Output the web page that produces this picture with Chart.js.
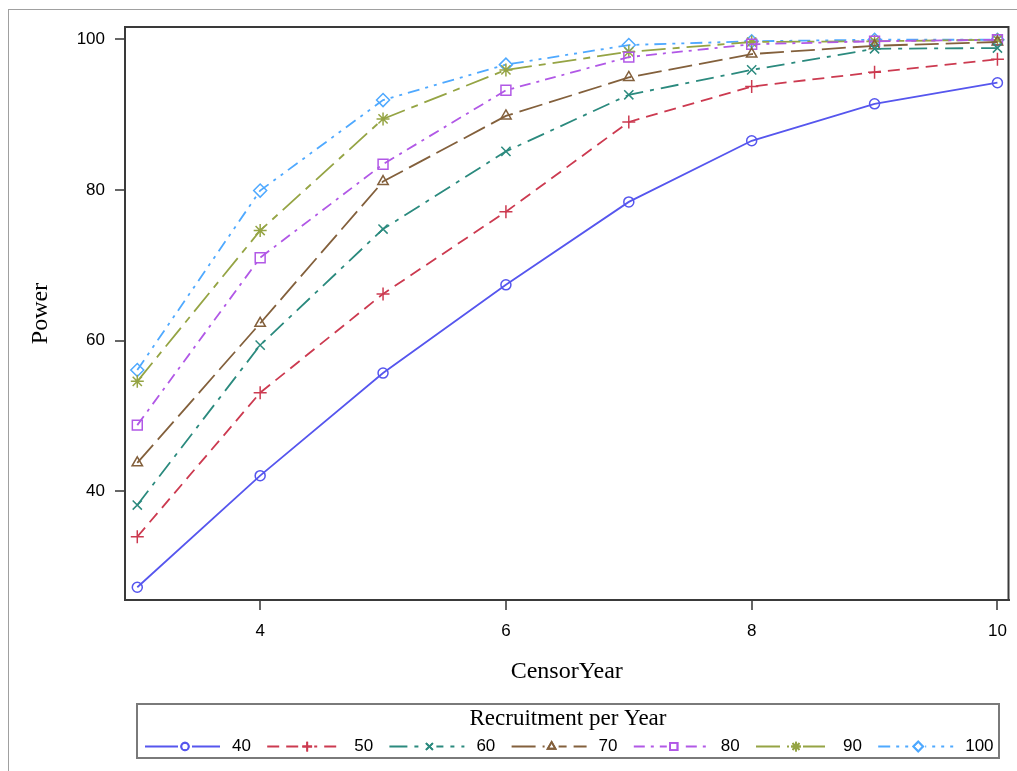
<!DOCTYPE html>
<html>
<head>
<meta charset="utf-8">
<script src="https://cdn.jsdelivr.net/npm/chart.js@4/dist/chart.umd.min.js"></script>
<style>
  body { margin: 0; background: #fff; }
  #wrap { width: 1017px; height: 771px; }
</style>
</head>
<body>
<div id="wrap"><canvas id="grafica" width="1017" height="771"></canvas></div>
<script>
const censorYears = [3, 4, 5, 6, 7, 8, 9, 10];
const recruitment = ['40', '50', '60', '70', '80', '90', '100'];

const power40 = [27.3, 42.1, 55.7, 67.4, 78.4, 86.5, 91.4, 94.2];
const power50 = [34.0, 53.1, 66.2, 77.1, 89.0, 93.7, 95.6, 97.3];
const power60 = [38.2, 59.4, 74.8, 85.1, 92.6, 95.9, 98.7, 98.8];
const power70 = [43.8, 62.3, 81.1, 89.8, 94.9, 98.0, 99.1, 99.6];
const power80 = [48.8, 71.0, 83.4, 93.2, 97.6, 99.3, 99.7, 99.9];
const power90 = [54.6, 74.6, 89.4, 95.9, 98.3, 99.6, 99.7, 99.9];
const power100 = [56.1, 79.9, 91.9, 96.6, 99.2, 99.7, 99.9, 99.9];

const xTicks = [4, 6, 8, 10];
const yTicks = [40, 60, 80, 100];

const serif = "'Liberation Serif', 'Times New Roman', serif";
const sans = "'Liberation Sans', Arial, sans-serif";

function series(label, values, color, dash, style, radius) {
    return {
        label: label,
        data: censorYears.map((x, i) => ({x: x, y: values[i]})),
        borderColor: color,
        backgroundColor: color,
        borderWidth: 1.8,
        borderDash: dash,
        pointStyle: style,
        pointRadius: radius,
        pointBorderWidth: 1.5,
        pointBackgroundColor: 'rgba(0,0,0,0)',
        pointBorderColor: color,
        tension: 0
    };
}

const datasets = [
    series(recruitment[0], power40, '#5656ee', [], 'circle', 5),
    series(recruitment[1], power50, '#cc3a50', [12, 7], 'cross', 6.5),
    series(recruitment[2], power60, '#2b8a7e', [18, 7, 4, 7], 'crossRot', 6.5),
    series(recruitment[3], power70, '#83603c', [24, 7], 'triangle', 6),
    series(recruitment[4], power80, '#b158e6', [11, 6, 3, 6], 'rect', 7),
    series(recruitment[5], power90, '#95a444', [24, 7, 7, 7], 'star', 6.5),
    series(recruitment[6], power100, '#4fa9ff', [12, 6, 3, 6, 3, 6], 'rectRot', 6.5)
];

// frame round the whole picture, top/right of the plot and the SAS style legend
const sasDecor = {
    id: 'sasDecor',
    afterDraw(chart) {
        const ctx = chart.ctx;
        const a = chart.chartArea;
        ctx.save();
        ctx.strokeStyle = '#a0a0a0';
        ctx.lineWidth = 1;
        ctx.strokeRect(8.5, 9.5, 1030, 780);

        ctx.strokeStyle = '#3a3a3a';
        ctx.lineWidth = 2;
        ctx.beginPath();
        ctx.moveTo(a.left, a.top);
        ctx.lineTo(a.right, a.top);
        ctx.lineTo(a.right, a.bottom);
        ctx.stroke();

        // legend
        ctx.strokeStyle = '#7a7a7a';
        ctx.lineWidth = 2;
        ctx.strokeRect(137, 704, 862, 54);
        ctx.fillStyle = '#000';
        ctx.font = '23px ' + serif;
        ctx.textAlign = 'center';
        ctx.textBaseline = 'middle';
        ctx.fillText('Recruitment per Year', 568, 719);

        const y = 746.5;
        chart.data.datasets.forEach((ds, i) => {
            const x0 = 145 + i * 122.2;
            ctx.strokeStyle = ds.borderColor;
            ctx.lineWidth = 1.8;
            ctx.setLineDash(ds.borderDash);
            ctx.beginPath();
            ctx.moveTo(x0, y);
            ctx.lineTo(x0 + 75, y);
            ctx.stroke();
            ctx.setLineDash([]);
            ctx.fillStyle = '#fff';
            ctx.fillRect(x0 + 33, y - 6, 14, 12);
            Chart.helpers.drawPoint(ctx, {
                pointStyle: ds.pointStyle,
                radius: ds.pointRadius * 0.75,
                borderWidth: 1.5,
                rotation: 0
            }, x0 + 40, y);
            ctx.strokeStyle = ds.borderColor;
            ctx.stroke();
            ctx.fillStyle = '#000';
            ctx.font = '17px ' + sans;
            ctx.textAlign = 'left';
            ctx.fillText(ds.label, x0 + 87, y);
        });
        ctx.restore();
    }
};

const config = {
    type: 'line',
    data: {datasets: datasets},
    options: {
        responsive: false,
        animation: false,
        layout: {padding: {left: 0, top: 27, right: 6, bottom: 0}},
        plugins: {legend: {display: false}, tooltip: {enabled: false}},
        scales: {
            x: {
                type: 'linear',
                min: 2.9,
                max: 10.09,
                afterFit: s => { s.height = 171; s.paddingLeft = 0; s.paddingRight = 0; },
                afterBuildTicks: s => { s.ticks = xTicks.map(v => ({value: v})); },
                grid: {display: true, drawOnChartArea: false, drawTicks: true, tickLength: 10, color: '#666', lineWidth: 2},
                border: {display: true, color: '#3a3a3a', width: 2},
                ticks: {color: '#000', font: {family: sans, size: 17}, padding: 11, maxRotation: 0},
                title: {display: true, text: 'CensorYear', color: '#000', font: {family: serif, size: 24}, padding: {top: 0, bottom: 85}}
            },
            y: {
                min: 25.61,
                max: 101.59,
                afterFit: s => { s.width = 125; s.paddingTop = 0; s.paddingBottom = 0; },
                afterBuildTicks: s => { s.ticks = yTicks.map(v => ({value: v})); },
                grid: {display: true, drawOnChartArea: false, drawTicks: true, tickLength: 10, color: '#666', lineWidth: 2},
                border: {display: true, color: '#3a3a3a', width: 2},
                ticks: {color: '#000', font: {family: sans, size: 17}, padding: 10},
                title: {display: true, text: 'Power', color: '#000', font: {family: serif, size: 24}, padding: {top: 26, bottom: 0}}
            }
        }
    },
    plugins: [sasDecor]
};

new Chart(document.getElementById('grafica'), config);
</script>
</body>
</html>
